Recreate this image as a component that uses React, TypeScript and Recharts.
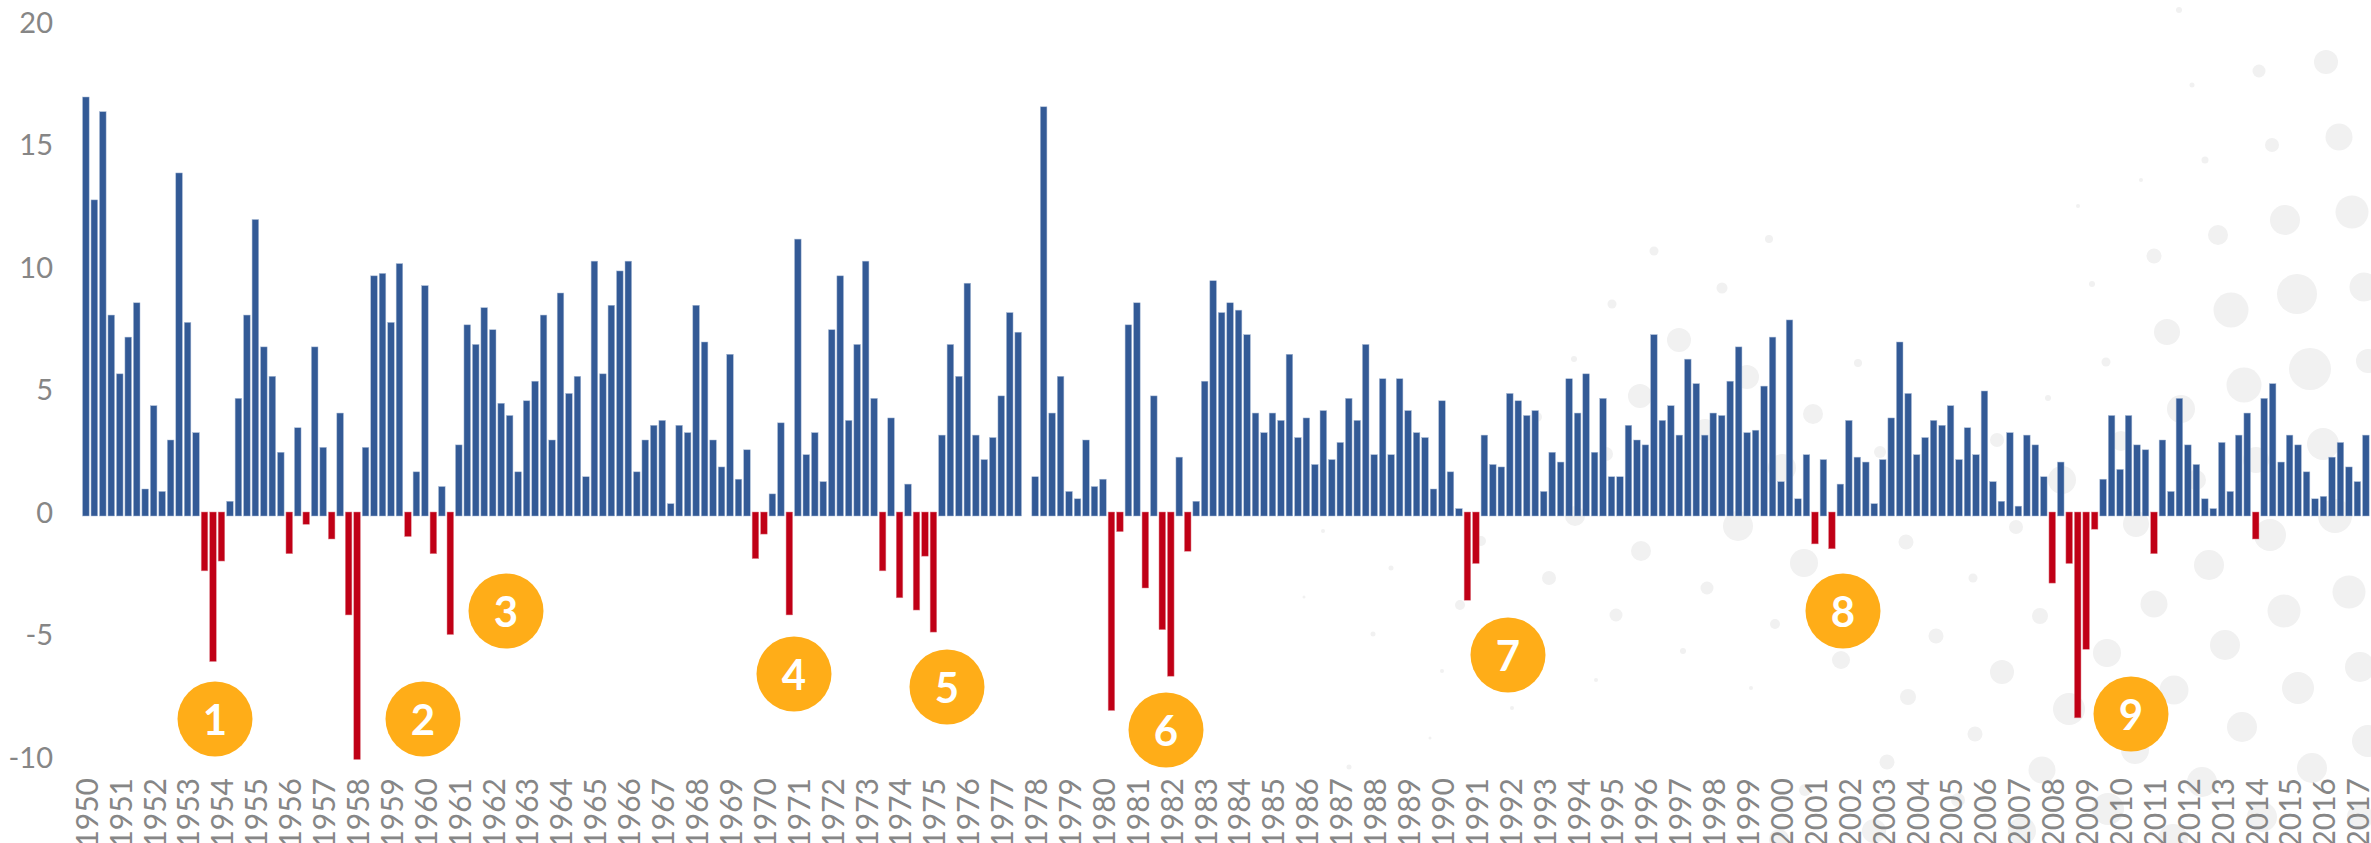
import { Bar, BarChart, XAxis, YAxis } from "recharts";

const firstYear = 1950;

// quarterly change, one row per year (the gap at the end of 1977 is empty in the source)
const growthValues = [
  17, 12.8, 16.4, 8.1,
  5.7, 7.2, 8.6, 1.0,
  4.4, 0.9, 3.0, 13.9,
  7.8, 3.3, -2.3, -6.0,
  -1.9, 0.5, 4.7, 8.1,
  12.0, 6.8, 5.6, 2.5,
  -1.6, 3.5, -0.4, 6.8,
  2.7, -1.0, 4.1, -4.1,
  -10.0, 2.7, 9.7, 9.8,
  7.8, 10.2, -0.9, 1.7,
  9.3, -1.6, 1.1, -4.9,
  2.8, 7.7, 6.9, 8.4,
  7.5, 4.5, 4.0, 1.7,
  4.6, 5.4, 8.1, 3.0,
  9.0, 4.9, 5.6, 1.5,
  10.3, 5.7, 8.5, 9.9,
  10.3, 1.7, 3.0, 3.6,
  3.8, 0.4, 3.6, 3.3,
  8.5, 7.0, 3.0, 1.9,
  6.5, 1.4, 2.6, -1.8,
  -0.8, 0.8, 3.7, -4.1,
  11.2, 2.4, 3.3, 1.3,
  7.5, 9.7, 3.8, 6.9,
  10.3, 4.7, -2.3, 3.9,
  -3.4, 1.2, -3.9, -1.7,
  -4.8, 3.2, 6.9, 5.6,
  9.4, 3.2, 2.2, 3.1,
  4.8, 8.2, 7.4, null,
  1.5, 16.6, 4.1, 5.6,
  0.9, 0.6, 3.0, 1.1,
  1.4, -8.0, -0.7, 7.7,
  8.6, -3.0, 4.8, -4.7,
  -6.6, 2.3, -1.5, 0.5,
  5.4, 9.5, 8.2, 8.6,
  8.3, 7.3, 4.1, 3.3,
  4.1, 3.8, 6.5, 3.1,
  3.9, 2.0, 4.2, 2.2,
  2.9, 4.7, 3.8, 6.9,
  2.4, 5.5, 2.4, 5.5,
  4.2, 3.3, 3.1, 1.0,
  4.6, 1.7, 0.2, -3.5,
  -2.0, 3.2, 2.0, 1.9,
  4.9, 4.6, 4.0, 4.2,
  0.9, 2.5, 2.1, 5.5,
  4.1, 5.7, 2.5, 4.7,
  1.5, 1.5, 3.6, 3.0,
  2.8, 7.3, 3.8, 4.4,
  3.2, 6.3, 5.3, 3.2,
  4.1, 4.0, 5.4, 6.8,
  3.3, 3.4, 5.2, 7.2,
  1.3, 7.9, 0.6, 2.4,
  -1.2, 2.2, -1.4, 1.2,
  3.8, 2.3, 2.1, 0.4,
  2.2, 3.9, 7.0, 4.9,
  2.4, 3.1, 3.8, 3.6,
  4.4, 2.2, 3.5, 2.4,
  5.0, 1.3, 0.5, 3.3,
  0.3, 3.2, 2.8, 1.5,
  -2.8, 2.1, -2.0, -8.3,
  -5.5, -0.6, 1.4, 4.0,
  1.8, 4.0, 2.8, 2.6,
  -1.6, 3.0, 0.9, 4.7,
  2.8, 2.0, 0.6, 0.2,
  2.9, 0.9, 3.2, 4.1,
  -1.0, 4.7, 5.3, 2.1,
  3.2, 2.8, 1.7, 0.6,
  0.7, 2.3, 2.9, 1.9,
  1.3, 3.2,
];

const valueTicks = [-10, -5, 0, 5, 10, 15, 20];

// numbered callouts: label, x, y in page pixels
const badges: [string, number, number][] = [
  ["1", 215, 719],
  ["2", 423, 719],
  ["3", 506, 611],
  ["4", 794, 674],
  ["5", 947, 687],
  ["6", 1166, 730],
  ["7", 1508, 655],
  ["8", 1843, 611],
  ["9", 2131, 714],
];

// pale dots of the backdrop: x, y, radius
const backdropDots: [number, number, number][] = [
  [2326, 62, 12], [2259, 71, 6.5], [2192, 85, 2.5], [2179, 10, 3], [2339, 137, 13.5], [2272, 145, 7],
  [2205, 160, 3.5], [2141, 180, 2], [2078, 206, 2], [2352, 212, 16.5], [2285, 220, 15], [2218, 235, 10],
  [2154, 256, 7.5], [2092, 284, 3], [2297, 294, 20], [2364, 287, 14.5], [2231, 310, 17.5], [2167, 332, 13],
  [2310, 369, 21], [2106, 362, 4.5], [2244, 385, 17.5], [2368, 361, 12], [2048, 398, 3], [1858, 363, 4],
  [1813, 414, 10], [2181, 409, 14], [2323, 444, 16], [2256, 460, 13], [2121, 441, 10], [1997, 440, 7],
  [1880, 452, 6], [2062, 480, 14], [2196, 480, 10], [2335, 516, 17], [2270, 535, 16], [2136, 524, 13],
  [2016, 527, 7], [1906, 542, 7.5], [1804, 563, 14], [2209, 565, 15], [1973, 578, 4.5], [2349, 592, 16.5],
  [2154, 604, 13.5], [2284, 611, 16.5], [2040, 616, 8], [1775, 624, 5], [1936, 636, 7.5], [2225, 645, 15],
  [2107, 653, 14], [1841, 660, 9], [2002, 672, 12], [2360, 667, 15], [2298, 688, 16], [2174, 690, 14.5],
  [1908, 697, 8], [2069, 709, 16], [2242, 727, 15], [1975, 734, 7.5], [2368, 741, 16], [2135, 750, 14],
  [1887, 762, 7.5], [2042, 770, 13.5], [2312, 768, 15], [2202, 782, 15], [1805, 790, 6], [1958, 800, 7],
  [2108, 809, 16], [2262, 817, 15], [2360, 817, 13], [2022, 831, 14], [1874, 831, 12], [2173, 839, 15],
  [1779, 839, 10], [1679, 340, 12], [1640, 396, 12], [1722, 288, 5.5], [1769, 239, 4], [1654, 251, 4.5],
  [1612, 304, 4.5], [1574, 359, 3], [1747, 377, 12], [1537, 417, 5], [1606, 454, 7], [1782, 468, 14],
  [1705, 430, 11], [1575, 516, 10], [1738, 526, 15], [1641, 551, 10], [1481, 541, 5], [1707, 588, 6.5],
  [1549, 578, 7], [1616, 615, 6.5], [1460, 605, 5], [1391, 568, 2.5], [1683, 651, 3], [1373, 634, 2.5],
  [1442, 671, 2], [1596, 680, 2], [1751, 688, 2], [1323, 531, 2], [1512, 708, 2], [1304, 597, 1.5],
  [1349, 767, 2.5], [1430, 738, 1.5], [1420, 805, 1.5],
];

const chartData = growthValues.map((growth, idx) => ({
  quarter: `${firstYear + Math.floor(idx / 4)}Q${(idx % 4) + 1}`,
  growth,
}));

const yearTicks = chartData.filter((d) => d.quarter.endsWith("Q1")).map((d) => d.quarter);

const BLUE = "#335a96";
const RED = "#c00016";
const GREY = "#868686";
const FONT = "Lato, sans-serif";
const BAR_WIDTH = 6.6;
const ZERO_OVERLAP = 2.5; // bars of both signs run a little past the zero line in the source

function GrowthBar(props: any) {
  const { x, y, width, height, payload } = props;
  if (payload.growth == null) return null;
  const top = Math.min(y, y + height);
  const bottom = Math.max(y, y + height);
  const negative = payload.growth < 0;
  return (
    <rect
      x={x + width / 2 - BAR_WIDTH / 2}
      y={negative ? top - ZERO_OVERLAP + 1 : top}
      width={BAR_WIDTH}
      height={bottom - top + ZERO_OVERLAP}
      fill={negative ? RED : BLUE}
      stroke={negative ? "#e08a94" : "#a9bbd6"}
      strokeWidth={0.5}
    />
  );
}

function YearTick(props: any) {
  const { x, payload } = props;
  return (
    <text
      transform={`translate(${x},778) rotate(-90)`}
      textAnchor="end"
      dominantBaseline="central"
      fill={GREY}
      fontFamily={FONT}
      fontSize={30}
    >
      {payload.value.slice(0, 4)}
    </text>
  );
}

export default function App() {
  return (
    <div style={{ position: "absolute", left: 0, top: 0, width: 2371, height: 843, overflow: "hidden", background: "#fff" }}>
      <svg width={2371} height={843} style={{ position: "absolute", left: 0, top: 0 }}>
        {backdropDots.map(([cx, cy, r], idx) => (
          <circle key={idx} cx={cx} cy={cy} r={r} fill="#f1f1f1" />
        ))}
      </svg>
      <div style={{ position: "absolute", left: 0, top: 0 }}>
        <BarChart
          width={2371}
          height={843}
          data={chartData}
          margin={{ top: 23.5, right: 1, bottom: 0, left: 0 }}
        >
          <XAxis
            dataKey="quarter"
            ticks={yearTicks}
            interval={0}
            height={84.5}
            axisLine={false}
            tickLine={false}
            tickSize={0}
            tickMargin={0}
            tick={YearTick}
          />
          <YAxis
            domain={[-10, 20]}
            ticks={valueTicks}
            width={81.5}
            axisLine={false}
            tickLine={false}
            tickSize={0}
            tickMargin={28.5}
            tick={{ fill: GREY, fontSize: 29, fontFamily: FONT, dy: -1 }}
          />
          <Bar dataKey="growth" isAnimationActive={false} shape={GrowthBar} />
        </BarChart>
      </div>
      <svg width={2371} height={843} style={{ position: "absolute", left: 0, top: 0 }}>
        {badges.map(([label, cx, cy]) => (
          <g key={label}>
            <circle cx={cx} cy={cy} r={37.5} fill="#ffad18" />
            <text x={cx} y={cy} textAnchor="middle" dominantBaseline="central" fill="#fff" fontFamily={FONT} fontWeight={700} fontSize={42}>
              {label}
            </text>
          </g>
        ))}
      </svg>
    </div>
  );
}
